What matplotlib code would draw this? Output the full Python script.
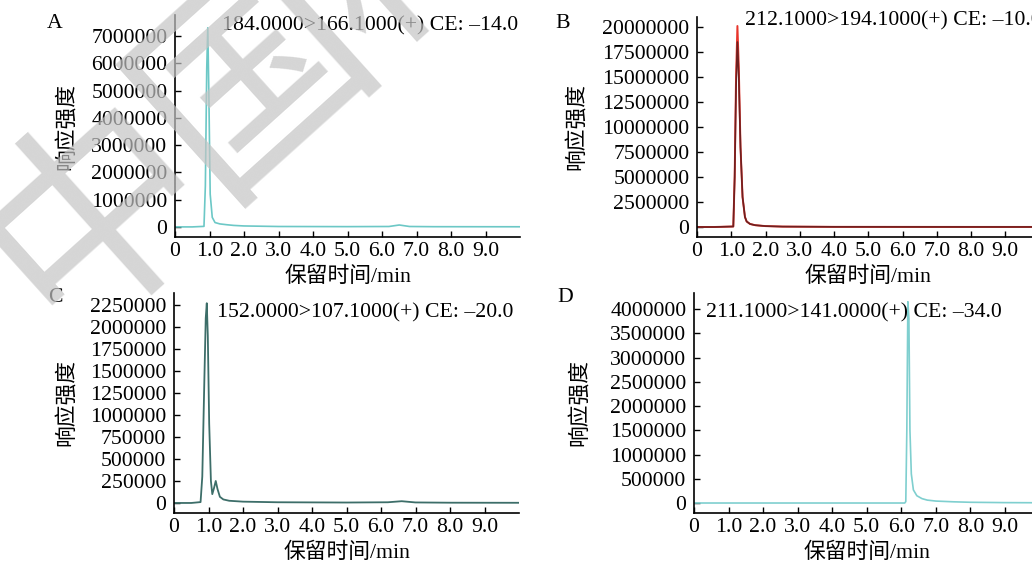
import numpy as np
import matplotlib
matplotlib.use('Agg')
import matplotlib.pyplot as plt

plt.rcParams['font.family'] = ['Liberation Serif', 'Noto Sans CJK SC']
plt.rcParams['font.size'] = 15.7

# chromatogram points (time in min, response)
time_a = [0, 0.5, 0.84, 0.88, 0.92, 0.95, 0.98, 1.02, 1.08, 1.16, 1.3, 1.5, 1.7, 2.0, 3.0, 5.0, 6.2, 6.5, 6.8, 7.5, 10.0]
resp_a = [0, 0, 20000, 1500000, 5800000, 7300000, 5000000, 1200000, 350000, 160000, 110000, 80000, 55000, 35000, 15000, 10000, 15000, 70000, 15000, 8000, 5000]

time_b = [0, 0.5, 1.06, 1.1, 1.14, 1.18, 1.22, 1.27, 1.33, 1.4, 1.45, 1.55, 1.7, 2.0, 2.5, 4.0, 7.0, 10.0]
resp_b_dark = [0, 0, 50000, 5000000, 14000000, 18500000, 15000000, 8000000, 3000000, 1000000, 550000, 300000, 180000, 90000, 40000, 15000, 8000, 5000]
resp_b_red = [0, 0, 50000, 5000000, 15000000, 20100000, 16000000, 8000000, 3000000, 1000000, 550000, 300000, 180000, 90000, 40000, 15000, 8000, 5000]

time_c = [0, 0.5, 0.77, 0.82, 0.88, 0.92, 0.95, 0.98, 1.02, 1.07, 1.11, 1.16, 1.21, 1.26, 1.33, 1.43, 1.6, 2.0, 3.0, 5.0, 6.2, 6.6, 7.0, 8.0, 10.0]
resp_c = [0, 0, 10000, 300000, 1400000, 2100000, 2270000, 1900000, 900000, 250000, 100000, 170000, 250000, 160000, 70000, 40000, 25000, 15000, 8000, 5000, 8000, 20000, 6000, 3000, 2000]

time_d = [0, 3.0, 6.1, 6.13, 6.16, 6.19, 6.22, 6.25, 6.29, 6.35, 6.45, 6.6, 6.75, 7.0, 7.5, 8.0, 9.0, 10.0]
resp_d = [0, 0, 0, 30000, 1500000, 4150000, 3800000, 1500000, 600000, 270000, 150000, 90000, 60000, 40000, 25000, 15000, 8000, 5000]

transitions = ['184.0000>166.1000(+) CE: \u201314.0', '212.1000>194.1000(+) CE: \u201310.0',
               '152.0000>107.1000(+) CE: \u201320.0', '211.1000>141.0000(+) CE: \u201334.0']
panel_letters = ['A', 'B', 'C', 'D']
yticks_a = [0, 1000000, 2000000, 3000000, 4000000, 5000000, 6000000, 7000000]
yticks_b = [0, 2500000, 5000000, 7500000, 10000000, 12500000, 15000000, 17500000, 20000000]
yticks_c = [0, 250000, 500000, 750000, 1000000, 1250000, 1500000, 1750000, 2000000, 2250000]
yticks_d = [0, 500000, 1000000, 1500000, 2000000, 2500000, 3000000, 3500000, 4000000]
xticks = [0, 1, 2, 3, 4, 5, 6, 7, 8, 9]
xtick_labels = ['0', '1.0', '2.0', '3.0', '4.0', '5.0', '6.0', '7.0', '8.0', '9.0']
watermark_chars = ['中', '国', '科']

fig = plt.figure(figsize=(10.32, 5.64), dpi=100)

W, H = 1032, 564
def make_ax(left, right, top, bottom):
    return fig.add_axes([left / W, 1 - bottom / H, (right - left) / W, (bottom - top) / H], facecolor='none')

ax_a = make_ax(175, 520, 15, 237)
ax_b = make_ax(697, 1039.5, 17, 237)
ax_c = make_ax(174, 519, 293, 513)
ax_d = make_ax(694, 1039.5, 293, 513)

ax_a.plot(time_a, resp_a, color='#6cc8c6', lw=1.2)
ax_b.plot(time_b, resp_b_red, color='#e8352b', lw=1.4)
ax_b.plot(time_b, resp_b_dark, color='#6e2020', lw=1.2)
ax_c.plot(time_c, resp_c, color='#3d6e69', lw=1.3)
ax_d.plot(time_d, resp_d, color='#7fcfcf', lw=1.2)

ax_a.set_ylim(-370000, 7770000)
ax_b.set_ylim(-1000000, 21000000)
ax_c.set_ylim(-114000, 2386000)
ax_d.set_ylim(-206000, 4330000)

axes = [ax_a, ax_b, ax_c, ax_d]
ytick_sets = [yticks_a, yticks_b, yticks_c, yticks_d]
text_pos = [(0.136, 0.95), (0.14, 0.982), (0.125, 0.909), (0.035, 0.909)]
letter_pos = [(55, 23), (563, 23), (55, 297), (565, 297)]
ylabel_x = [-0.284, -0.32, -0.281, -0.301]

for i, ax in enumerate(axes):
    ax.set_xlim(0, 10)
    ax.set_xticks(xticks)
    ax.set_xticklabels(xtick_labels)
    ax.set_yticks(ytick_sets[i])
    ax.set_yticklabels([str(v) for v in ytick_sets[i]])
    ax.tick_params(axis='x', direction='in', length=4, width=1, pad=3.5)
    ax.tick_params(axis='y', direction='in', length=4, width=1, pad=5.5)
    ax.spines['top'].set_visible(False)
    ax.spines['right'].set_visible(False)
    ax.spines['left'].set_linewidth(1.2)
    ax.spines['bottom'].set_linewidth(1.2)
    ax.set_xlabel('保留时间/min')
    ax.xaxis.set_label_coords(0.5, -0.135)
    ax.set_ylabel('响应强度')
    ax.yaxis.set_label_coords(ylabel_x[i], 0.5)
    ax.text(text_pos[i][0], text_pos[i][1], transitions[i], transform=ax.transAxes,
            ha='left', va='center')
    fig.text(letter_pos[i][0] / W, 1 - letter_pos[i][1] / H, panel_letters[i],
             ha='center', va='center')

# faint watermark laid over the top-left panel
for k, ch in enumerate(watermark_chars):
    cx, cy = 100 + 155 * k, 215 - 140 * k
    fig.text(cx / W, 1 - cy / H, ch, fontsize=160, color='#c4c4c4', alpha=0.7,
             rotation=42, ha='center', va='center', family='Noto Sans CJK SC',
             zorder=5)

fig.savefig('out.png', dpi=100)
